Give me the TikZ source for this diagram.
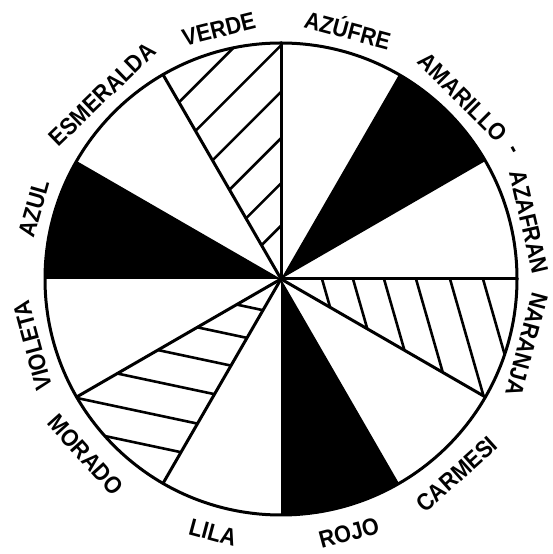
\documentclass[tikz,border=0pt]{standalone}
\usepackage{fontspec}
\newfontfamily\lblfont[FakeStretch=0.9]{Liberation Sans}
\tikzset{
  edge/.style={line width=3pt,line cap=round},
  hatch/.style={line width=2.6pt},
  lbl/.style={font=\lblfont\bfseries\fontsize{24}{24}\selectfont,inner sep=0pt,anchor=base},
}
\newcommand\toplbl[4][249]{\node[lbl,rotate={#3-90}] (#2) at ([shift={(#3:#1)}]O) {#4};}
\newcommand\botlbl[3]{\node[lbl,rotate={#2+90}] (#1) at ([shift={(#2:271)}]O) {#3};}
\begin{document}
\begin{tikzpicture}[x=1pt,y=1pt]
\useasboundingbox (0,0) rectangle (552,554);
\fill[white] (0,0) rectangle (552,554);
\coordinate (O) at (281,275);
% black sectors
\foreach \a in {30,150,270}
  \fill[black] (O) -- ([shift={(\a:236)}]O) arc[start angle=\a,end angle={\a+30},radius=236] -- cycle;
% hatched: verde
\begin{scope}
  \clip (O) -- ([shift={(90:236)}]O) arc[start angle=90,end angle=120,radius=236] -- cycle;
  \foreach \d in {39,70,103,137,171,204}
    \draw[hatch] ([shift={(120:\d)}]O) ++(225:10) -- ++(45:300);
\end{scope}
% hatched: morado
\begin{scope}
  \clip (O) -- ([shift={(210:236)}]O) arc[start angle=210,end angle=240,radius=236] -- cycle;
  \foreach \d in {36,68,100,133,167,200}
    \draw[hatch] ([shift={(240:\d)}]O) ++(-12:10) -- ++(168:300);
\end{scope}
% hatched: naranja
\begin{scope}
  \clip (O) -- ([shift={(330:236)}]O) arc[start angle=330,end angle=360,radius=236] -- cycle;
  \foreach \d in {41,72,103,135,169,202}
    \draw[hatch] ([shift={(0:\d)}]O) ++(106:10) -- ++(-74:300);
\end{scope}
% radial lines and circle
\foreach \a in {0,90,120,210,240,330}
  \draw[edge] (O) -- ([shift={(\a:236)}]O);
\draw[edge] (O) circle[radius=236];
% labels
\toplbl{verde}{104}{VERDE}
\toplbl{azufre}{75}{AZÚFRE}
\toplbl{amarillo}{45}{AMARILLO}
\node[lbl,anchor=center,rotate=-61] (dash) at ([shift={(29:264)}]O) {-};
\toplbl[246]{azafran}{13}{AZAFRAN}
\toplbl[246]{naranja}{345}{NARANJA}
\toplbl{violeta}{195}{VIOLETA}
\toplbl{azul}{164}{AZUL}
\toplbl{esmeralda}{134}{ESMERALDA}
\botlbl{morado}{222}{MORADO}
\botlbl{lila}{255}{LILA}
\botlbl{rojo}{285}{ROJO}
\botlbl{carmesi}{312}{CARMESI}
\end{tikzpicture}
\end{document}
